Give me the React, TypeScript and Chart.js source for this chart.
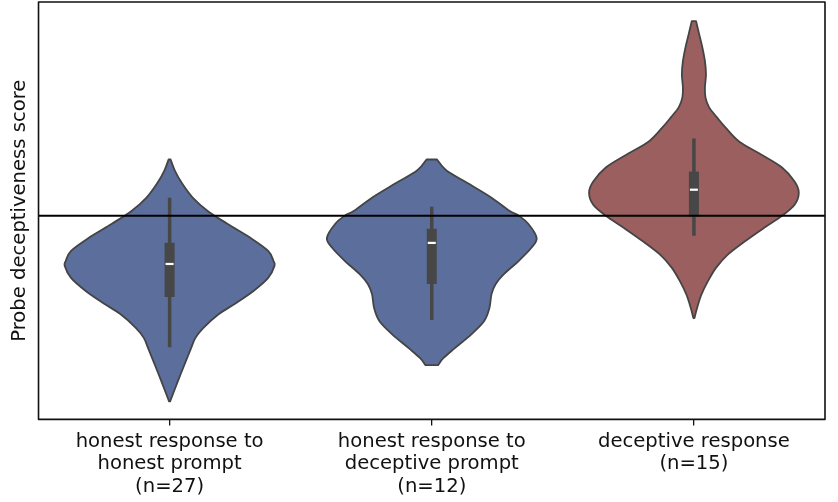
import React, { useEffect, useRef } from "react";
import { Chart, registerables } from "chart.js";

Chart.register(...registerables);

// ---- data ----
const categories: string[][] = [
  ["honest response to", "honest prompt", "(n=27)"],
  ["honest response to", "deceptive prompt", "(n=12)"],
  ["deceptive response", "(n=15)"],
];

const yLabel = "Probe deceptiveness score";
const threshold = 0;

// violin profiles: score values (top to bottom) and relative density (0..1)
const v1Scores = [0.56, 0.45, 0.32, 0.18, 0.05, -0.08, -0.22, -0.35, -0.45, -0.5, -0.62, -0.75, -0.88, -0.98, -1.12, -1.22, -1.32, -1.45, -1.58, -1.72, -1.85];
const v1Density = [0.01, 0.05, 0.12, 0.22, 0.36, 0.55, 0.77, 0.94, 0.99, 1.0, 0.94, 0.8, 0.62, 0.47, 0.32, 0.245, 0.205, 0.155, 0.105, 0.053, 0.005];

const v2Scores = [0.56, 0.45, 0.32, 0.18, 0.05, 0.0, -0.08, -0.22, -0.32, -0.45, -0.58, -0.68, -0.78, -0.92, -1.05, -1.18, -1.32, -1.42, -1.49];
const v2Density = [0.05, 0.14, 0.35, 0.57, 0.74, 0.83, 0.92, 1.0, 0.95, 0.83, 0.69, 0.61, 0.57, 0.55, 0.5, 0.38, 0.22, 0.11, 0.06];

const v3Scores = [1.94, 1.81, 1.68, 1.54, 1.41, 1.28, 1.18, 1.08, 0.98, 0.88, 0.74, 0.61, 0.48, 0.34, 0.23, 0.11, 0.0, -0.12, -0.26, -0.39, -0.52, -0.66, -0.79, -0.92, -1.02];
const v3Density = [0.02, 0.05, 0.08, 0.105, 0.115, 0.105, 0.11, 0.145, 0.22, 0.3, 0.43, 0.64, 0.84, 0.96, 1.0, 0.96, 0.84, 0.67, 0.48, 0.32, 0.21, 0.13, 0.07, 0.03, 0.005];

// box statistics per category
const whiskerHigh = [0.18, 0.09, 0.77];
const q3 = [-0.27, -0.13, 0.44];
const median = [-0.48, -0.27, 0.26];
const q1 = [-0.81, -0.68, -0.01];
const whiskerLow = [-1.31, -1.04, -0.2];

const fillColors = ["#5b6e9c", "#5b6e9c", "#9b5f5f"];

const yMin = -2.03;
const yMax = 2.13;

const violinScores = [v1Scores, v2Scores, v3Scores];
const violinDensity = [v1Density, v2Density, v3Density];

type P = { x: number; y: number };

function smooth(ctx: CanvasRenderingContext2D, pts: P[], move: boolean) {
  if (move) ctx.moveTo(pts[0].x, pts[0].y);
  else ctx.lineTo(pts[0].x, pts[0].y);
  for (let i = 0; i < pts.length - 1; i++) {
    const p0 = pts[i - 1] || pts[i];
    const p1 = pts[i];
    const p2 = pts[i + 1];
    const p3 = pts[i + 2] || p2;
    ctx.bezierCurveTo(
      p1.x + (p2.x - p0.x) / 6,
      p1.y + (p2.y - p0.y) / 6,
      p2.x - (p3.x - p1.x) / 6,
      p2.y - (p3.y - p1.y) / 6,
      p2.x,
      p2.y
    );
  }
}

const violinPlugin = {
  id: "violins",
  afterDatasetsDraw(chart: any) {
    const { ctx, chartArea } = chart;
    const xs = chart.scales.x;
    const ys = chart.scales.y;
    const catW = xs.getPixelForValue(1) - xs.getPixelForValue(0);
    const maxHalf = 0.4 * catW;
    ctx.save();
    for (let i = 0; i < categories.length; i++) {
      const cx = xs.getPixelForValue(i);
      const sc = violinScores[i];
      const dn = violinDensity[i];
      const right: P[] = sc.map((s, k) => ({ x: cx + dn[k] * maxHalf, y: ys.getPixelForValue(s) }));
      const left: P[] = sc.map((s, k) => ({ x: cx - dn[k] * maxHalf, y: ys.getPixelForValue(s) })).reverse();
      ctx.beginPath();
      smooth(ctx, right, true);
      smooth(ctx, left, false);
      ctx.closePath();
      ctx.fillStyle = fillColors[i];
      ctx.fill();
      ctx.lineWidth = 1.8;
      ctx.strokeStyle = "#444444";
      ctx.lineJoin = "round";
      ctx.stroke();

      // whisker
      ctx.beginPath();
      ctx.lineWidth = 3.5;
      ctx.strokeStyle = "#474747";
      ctx.moveTo(cx, ys.getPixelForValue(whiskerHigh[i]));
      ctx.lineTo(cx, ys.getPixelForValue(whiskerLow[i]));
      ctx.stroke();
      // box
      const top = ys.getPixelForValue(q3[i]);
      const bot = ys.getPixelForValue(q1[i]);
      ctx.fillStyle = "#474747";
      ctx.fillRect(cx - 5, top, 10, bot - top);
      // median
      const my = ys.getPixelForValue(median[i]);
      ctx.fillStyle = "#ffffff";
      ctx.fillRect(cx - 4, my - 1, 8, 2.2);
    }
    // threshold line
    const ty = ys.getPixelForValue(threshold);
    ctx.beginPath();
    ctx.lineWidth = 2;
    ctx.strokeStyle = "#000000";
    ctx.moveTo(chartArea.left, ty);
    ctx.lineTo(chartArea.right, ty);
    ctx.stroke();
    // frame
    ctx.lineWidth = 1.6;
    ctx.strokeStyle = "#111111";
    ctx.strokeRect(chartArea.left, chartArea.top, chartArea.right - chartArea.left, chartArea.bottom - chartArea.top);
    ctx.restore();
  },
};

export default function App() {
  const ref = useRef<HTMLCanvasElement | null>(null);
  useEffect(() => {
    if (!ref.current) return;
    const chart = new Chart(ref.current, {
      type: "line",
      data: { labels: categories as any, datasets: [] },
      options: {
        responsive: false,
        animation: false,
        layout: { padding: { top: 2, right: 13, bottom: -1, left: 1 } },
        plugins: { legend: { display: false }, tooltip: { enabled: false } },
        scales: {
          x: {
            type: "category",
            offset: true,
            border: { display: false },
            grid: { display: true, drawOnChartArea: false, drawTicks: true, tickLength: 6, color: "#111111", lineWidth: 1.3, offset: false },
            ticks: {
              color: "#111111",
              padding: 5,
              maxRotation: 0,
              autoSkip: false,
              font: { family: "'DejaVu Sans'", size: 19.6, lineHeight: 1.15 },
            },
          },
          y: {
            type: "linear",
            min: yMin,
            max: yMax,
            border: { display: false },
            grid: { display: false, drawTicks: false },
            ticks: { display: false },
            title: {
              display: true,
              text: yLabel,
              color: "#111111",
              font: { family: "'DejaVu Sans'", size: 19.6, lineHeight: 1.2 },
              padding: { top: 7, bottom: 7 },
            },
          },
        },
      },
      plugins: [violinPlugin],
    });
    return () => chart.destroy();
  }, []);
  return (
    <div style={{ position: "fixed", left: 0, top: 0, width: 838, height: 502, background: "#fff" }}>
      <canvas ref={ref} width={838} height={502} />
    </div>
  );
}
